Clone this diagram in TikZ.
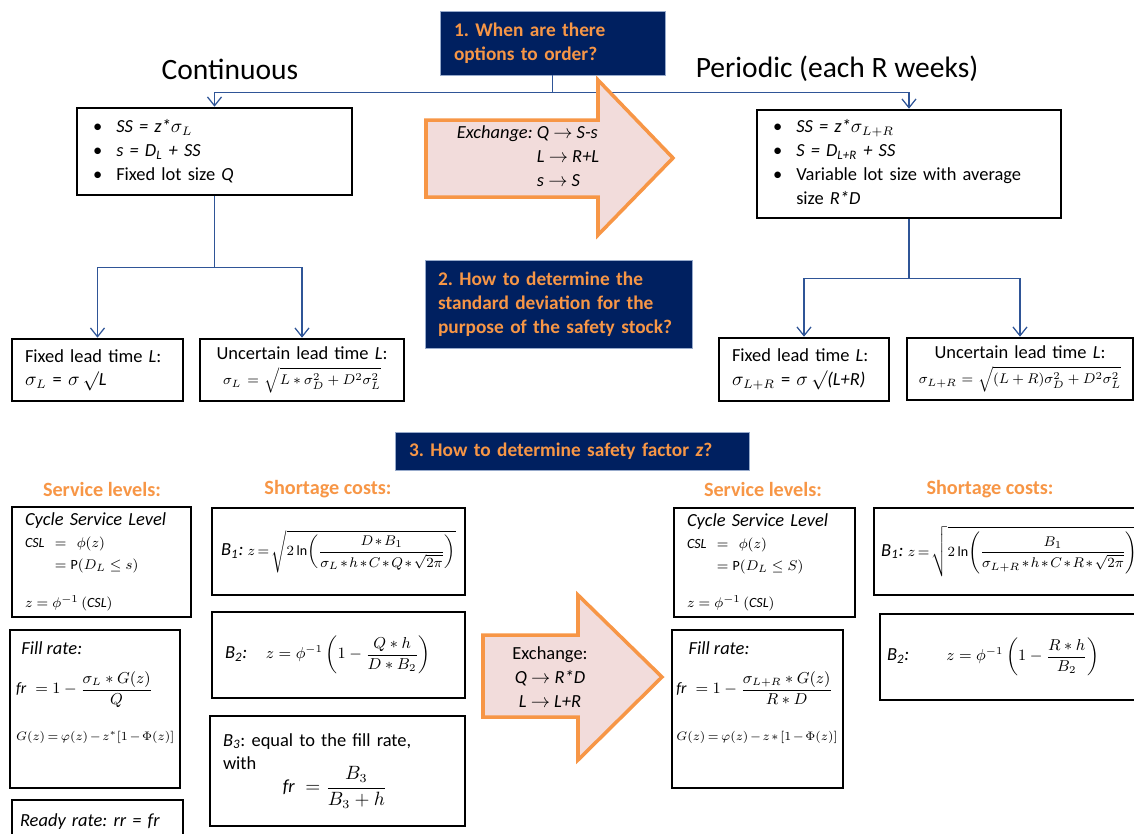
\documentclass[tikz,border=0pt]{standalone}
\usepackage{amsmath, amssymb}
\usepackage{fontspec}
\setmainfont{Carlito}
\usepackage{tikz}
\usetikzlibrary{arrows.meta}
\definecolor{navy}{HTML}{002060}
\definecolor{qorange}{HTML}{F79646}
\definecolor{pinkfill}{HTML}{F2DCDB}
\definecolor{linkblue}{HTML}{2F5597}
\newcommand{\boxfont}{\fontsize{10.5}{13.6}\selectfont}
\newcommand{\tightmath}{\medmuskip=2mu\thickmuskip=3mu}
\frenchspacing

\begin{document}
\begin{tikzpicture}[x=0.02cm, y=-0.02cm,
  box/.style = {shape=rectangle, draw, line width=1.5pt, align=left, font=\boxfont, inner sep=0pt},
  question/.style = {shape=rectangle, draw=linkblue!50, fill=navy, text=qorange, align=left, inner sep=0pt, font=\fontsize{11}{13.6}\selectfont\bfseries},
  heading/.style = {text=qorange, font=\fontsize{11.5}{14}\selectfont\bfseries},
  link/.style = {draw=linkblue, line width=0.7pt, -{Straight Barb[length=5pt, width=8pt]}},
  fatarrow/.style = {draw=qorange, fill=pinkfill, line width=2pt, line join=miter}]
  \useasboundingbox (0,0) rectangle (1134,833);

  \node[question, minimum width=4.5cm, minimum height=1.28cm, text width=3.94cm] (q1) at (552.5,43) {1. When are there\\ options to order?};
  \node[font=\fontsize{16.8}{20}\selectfont] (cont) at (230,69) {Continuous};
  \node[font=\fontsize{16.8}{20}\selectfont] (peri) at (837,69) {Periodic (each R weeks)};

  \node[box, minimum width=5.5cm, minimum height=1.74cm, text width=4.86cm] (lt) at (214.5,151.5) {\begin{tabular}{@{}l@{\hspace{8pt}}l@{}}
    \textbullet & \textit{SS = z*}$\sigma_L$\\
    \textbullet & \textit{s = D\textsubscript{L} + SS}\\
    \textbullet & Fixed lot size \textit{Q}
  \end{tabular}};
  \node[box, minimum width=6.08cm, minimum height=2.16cm, text width=5.44cm] (rt) at (909,164) {\begin{tabular}{@{}l@{\hspace{8pt}}p{4.8cm}@{}}
    \textbullet & \textit{SS = z*}$\sigma_{L+R}$\\
    \textbullet & \textit{S = D\textsubscript{L+R} + SS}\\
    \textbullet & \raggedright Variable lot size with average size \textit{R*D}
  \end{tabular}};

  \node[box, minimum width=3.42cm, minimum height=1.24cm, text width=2.9cm] (lfx) at (97.5,370) {Fixed lead time \textit{L}:\\ $\sigma_L$ = $\sigma\,\surd$\textit{L}};
  \node[box, minimum width=4.08cm, minimum height=1.24cm, text width=3.8cm, align=center] (lun) at (302,370) {Uncertain lead time \textit{L}:\\[1pt] {\footnotesize$\sigma_L=\sqrt{L*\sigma_D^2+D^2\sigma_L^2}$}};
  \node[box, minimum width=3.4cm, minimum height=1.26cm, text width=2.88cm] (rfx) at (804,369.5) {Fixed lead time \textit{L}:\\ $\sigma_{L+R}$ = $\sigma\,\surd$\textit{(L+R)}};
  \node[box, minimum width=4.52cm, minimum height=1.24cm, text width=4.3cm, align=center] (run) at (1020,369) {Uncertain lead time \textit{L}:\\[1pt] {\footnotesize$\sigma_{L+R}=\sqrt{(L+R)\sigma_D^2+D^2\sigma_L^2}$}};

  \node[question, minimum width=5.34cm, minimum height=1.76cm, text width=4.82cm] (q2) at (558.5,304) {2. How to determine the\\ standard deviation for the\\ purpose of the safety stock?};

  \draw[link] (q1.south) -- ++(0,17) -| (lt.north);
  \draw[link] (q1.south) -- ++(0,17) -| (rt.north);
  \draw[link] (lt.south) -- ++(0,71) -| (lfx.north);
  \draw[link] (lt.south) -- ++(0,71) -| (lun.north);
  \draw[link] (rt.south) -- ++(0,59) -| (rfx.north);
  \draw[link] (rt.south) -- ++(0,59) -| (run.north);

  \draw[fatarrow] (426,120) -- (598,120) -- (598,80) -- (673,158) -- (598,235) -- (598,197) -- (426,197) -- cycle;
  \node[font=\boxfont, inner sep=0pt] (xch1) at (528,158) {\begin{tabular}{@{}r@{\ }l@{}}
    \textit{Exchange:} & \textit{Q} $\rightarrow$ \textit{S-s}\\
    & \textit{L} $\rightarrow$ \textit{R+L}\\
    & \textit{s} $\rightarrow$ \textit{S}
  \end{tabular}};

  \node[question, minimum width=7.08cm, minimum height=0.76cm, text width=6.52cm] (q3) at (572,451) {3. How to determine safety factor \textit{z}?};

  \node[heading] (sl1) at (102,489) {Service levels:};
  \node[heading] (sc1) at (328,489) {Shortage costs:};
  \node[heading] (sl2) at (763,489) {Service levels:};
  \node[heading] (sc2) at (990,489) {Shortage costs:};

  \node[box, minimum width=3.58cm, minimum height=2.2cm, text width=3.06cm] (csl1) at (101.5,562) {\textit{Cycle Service Level}\\[3pt]
    {\footnotesize$\begin{aligned}\mathit{CSL}\ &=\ \phi(z)\\ &=\mathrm{P}(D_L\le s)\end{aligned}$}\\[11pt]
    {\footnotesize$z=\phi^{-1}\,(\mathit{CSL})$}};
  \node[box, minimum width=3.4cm, minimum height=3.16cm] (fr1) at (95,709) {};
  \node[anchor=north west, align=left, font=\boxfont, inner sep=0pt] (fr1txt) at ([shift={(4pt,-7pt)}]fr1.north west) {\hspace*{3pt}\textit{Fill rate:}\\[9pt]
    {\small$\mathit{fr}\;=1-\dfrac{\sigma_L*G(z)}{Q}$}\\[13pt]
    {\scriptsize\tightmath$G(z)=\varphi(z)-z^*[1-\Phi(z)]$}};
  \node[box, minimum width=3.42cm, minimum height=0.88cm, text width=3.1cm] (rr1) at (97.5,822) {\textit{Ready rate: rr = fr}};

  \node[box, minimum width=5.06cm, minimum height=1.74cm] (b1l) at (338.5,551.5) {\textit{B\textsubscript{1}:} {\footnotesize\tightmath$z=\sqrt{2\ln\!\left(\dfrac{D*B_1}{\sigma_L*h*C*Q*\sqrt{2\pi}}\right)}$}};
  \node[box, minimum width=5.06cm, minimum height=1.72cm, text width=4.54cm] (b2l) at (338.5,655) {\textit{B\textsubscript{2}:}\quad {\small$z=\phi^{-1}\left(1-\dfrac{Q*h}{D*B_2}\right)$}};
  \node[box, minimum width=5.1cm, minimum height=2.2cm, text width=4.58cm] (b3l) at (337.5,771) {\textit{B\textsubscript{3}}: equal to the fill rate,\\ with\\[-3pt]
    \hspace*{34pt}$\mathit{fr}\;=\dfrac{B_3}{B_3+h}$};

  \draw[fatarrow] (483,635) -- (578,635) -- (578,595) -- (662,677) -- (578,760) -- (578,717) -- (483,717) -- cycle;
  \node[font=\boxfont, align=center] (xch2) at (550,677) {Exchange:\\ \textit{Q} $\rightarrow$ \textit{R*D}\\ \textit{L} $\rightarrow$ \textit{L+R}};

  \node[box, minimum width=3.62cm, minimum height=2.18cm, text width=3.1cm] (csl2) at (764.5,562.5) {\textit{Cycle Service Level}\\[3pt]
    {\footnotesize$\begin{aligned}\mathit{CSL}\ &=\ \phi(z)\\ &=\mathrm{P}(D_L\le S)\end{aligned}$}\\[11pt]
    {\footnotesize$z=\phi^{-1}\,(\mathit{CSL})$}};
  \node[box, minimum width=3.42cm, minimum height=3.16cm] (fr2) at (757.5,709) {};
  \node[anchor=north west, align=left, font=\boxfont, inner sep=0pt] (fr2txt) at ([shift={(3pt,-7pt)}]fr2.north west) {\hspace*{7pt}\textit{Fill rate:}\\[9pt]
    {\small$\mathit{fr}\;=1-\dfrac{\sigma_{L+R}*G(z)}{R*D}$}\\[13pt]
    {\scriptsize\tightmath$G(z)=\varphi(z)-z*[1-\Phi(z)]$}};

  \node[box, minimum width=5.42cm, minimum height=1.74cm] (b1r) at (1009.5,551.5) {\textit{B\textsubscript{1}:} {\footnotesize\tightmath$z=\sqrt{2\ln\!\left(\dfrac{B_1}{\sigma_{L+R}*h*C*R*\sqrt{2\pi}}\right)}$}};
  \node[box, minimum width=5.28cm, minimum height=1.72cm, text width=5.0cm] (b2r) at (1012,657) {\textit{B\textsubscript{2}:}\qquad {\small$z=\phi^{-1}\left(1-\dfrac{R*h}{B_2}\right)$}};
\end{tikzpicture}
\end{document}
